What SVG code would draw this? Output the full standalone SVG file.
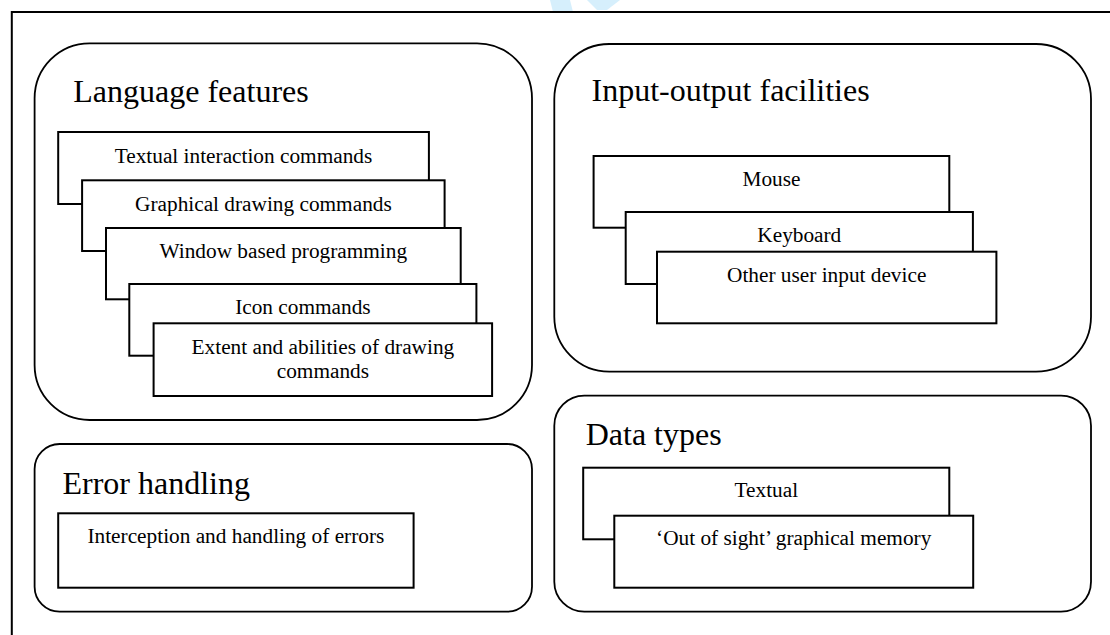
<svg xmlns="http://www.w3.org/2000/svg" width="1110" height="635" viewBox="0 0 1110 635">
<style>
.panel{fill:#fff;stroke:#000;stroke-width:1.8}
.box{fill:#fff;stroke:#000;stroke-width:2}
.title{font-family:"Liberation Serif","Times New Roman",serif;font-size:32px;fill:#000}
.lbl{font-family:"Liberation Serif","Times New Roman",serif;font-size:21.3px;fill:#000;text-anchor:middle}
.frame{fill:none;stroke:#000;stroke-width:2}
</style>
<rect width="1110" height="635" fill="#fff"/>
<polygon points="550,0 570,0 573,12 553,12" fill="#d6effc"/>
<polygon points="587,0 620,0 607,10 597,10" fill="#d6effc"/>
<path class="frame" d="M11.8,635 V12 H1110"/>

<g id="language-features">
<rect class="panel" x="34.6" y="43.3" width="497.4" height="376.7" rx="55" ry="55"/>
<text class="title" x="73.3" y="101.7">Language features</text>
<g id="textual-interaction">
<rect class="box" x="58.2" y="132" width="370.7" height="72"/>
<text class="lbl" x="243.5" y="162.7">Textual interaction commands</text>
</g>
<g id="graphical-drawing">
<rect class="box" x="82.1" y="180.3" width="362.5" height="70.7"/>
<text class="lbl" x="263.4" y="210.7">Graphical drawing commands</text>
</g>
<g id="window-based">
<rect class="box" x="106" y="228" width="354.7" height="71.3"/>
<text class="lbl" x="283.3" y="258.3">Window based programming</text>
</g>
<g id="icon-commands">
<rect class="box" x="129.3" y="284" width="347.1" height="71.7"/>
<text class="lbl" x="302.9" y="314">Icon commands</text>
</g>
<g id="extent-abilities">
<rect class="box" x="153.6" y="323.3" width="338.5" height="72.7"/>
<text class="lbl" x="322.9" y="354">Extent and abilities of drawing</text>
<text class="lbl" x="322.9" y="378.3">commands</text>
</g>
</g>

<g id="input-output">
<rect class="panel" x="554.3" y="44" width="536.7" height="327.7" rx="55" ry="55"/>
<text class="title" x="591.5" y="100.5">Input-output facilities</text>
<g id="mouse">
<rect class="box" x="593.6" y="156" width="355.7" height="71.7"/>
<text class="lbl" x="771.5" y="185.7">Mouse</text>
</g>
<g id="keyboard">
<rect class="box" x="625.7" y="212" width="347.2" height="72"/>
<text class="lbl" x="799.3" y="242.3">Keyboard</text>
</g>
<g id="other-input">
<rect class="box" x="657" y="251.7" width="339.4" height="71.6"/>
<text class="lbl" x="826.7" y="281.7">Other user input device</text>
</g>
</g>

<g id="error-handling">
<rect class="panel" x="34.6" y="444" width="497.4" height="167.7" rx="25" ry="25"/>
<text class="title" x="62.5" y="494">Error handling</text>
<g id="interception">
<rect class="box" x="58.2" y="513.3" width="355.4" height="74.4"/>
<text class="lbl" x="235.9" y="543.3">Interception and handling of errors</text>
</g>
</g>

<g id="data-types">
<rect class="panel" x="554.3" y="395.7" width="536.7" height="216" rx="30" ry="30"/>
<text class="title" x="585.7" y="445">Data types</text>
<g id="textual">
<rect class="box" x="583.2" y="467.7" width="366.1" height="71.6"/>
<text class="lbl" x="766.3" y="497.3">Textual</text>
</g>
<g id="out-of-sight">
<rect class="box" x="614.3" y="515.7" width="358.9" height="72"/>
<text class="lbl" x="793.7" y="545">‘Out of sight’ graphical memory</text>
</g>
</g>
</svg>
